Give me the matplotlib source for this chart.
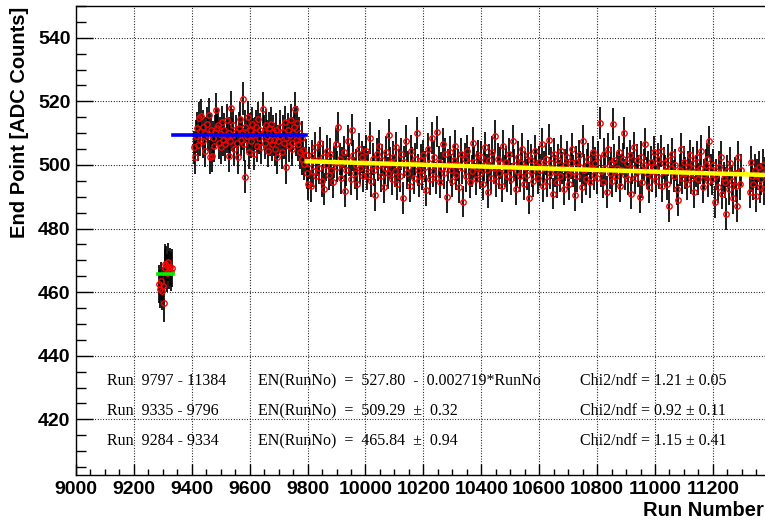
import matplotlib
matplotlib.use("Agg")
import matplotlib.pyplot as plt
from matplotlib.ticker import MultipleLocator

# fit results per run range
FIT_A = (465.84, 0.94, 1.15, 0.41)   # runs 9284 - 9334
FIT_B = (509.29, 0.32, 0.92, 0.11)   # runs 9335 - 9796
FIT_C = (527.80, 0.002719, 1.21, 0.05)  # runs 9797 - 11384, linear

RANGE_A = (9284, 9334)
RANGE_B = (9335, 9796)
RANGE_C = (9797, 11384)

# end point per run
runs_a = [9288, 9291, 9294, 9297, 9300, 9303, 9306, 9309, 9312, 9315, 9318, 9321, 9324, 9327, 9330]
ep_a = [462.5, 461.0, 463.5, 460.5, 462.0, 456.5, 469.0, 467.5, 468.5, 466.0, 469.5, 467.0, 468.0, 466.5, 467.5]

runs_b = [9406, 9410, 9413, 9417, 9420, 9424, 9427, 9430, 9433, 9437,
          9440, 9444, 9447, 9451, 9455, 9459, 9462, 9466, 9469, 9473,
          9476, 9480, 9484, 9487, 9491, 9494, 9498, 9502, 9505, 9509,
          9512, 9516, 9520, 9523, 9527, 9530, 9533, 9536, 9540, 9544,
          9547, 9551, 9555, 9559, 9562, 9566, 9569, 9573, 9576, 9580,
          9583, 9585, 9589, 9593, 9596, 9600, 9604, 9607, 9611, 9614,
          9618, 9622, 9625, 9629, 9633, 9636, 9640, 9645, 9648, 9652,
          9655, 9659, 9663, 9666, 9670, 9674, 9677, 9681, 9685, 9688,
          9692, 9695, 9699, 9703, 9706, 9710, 9714, 9717, 9721, 9724,
          9727, 9731, 9735, 9738, 9742, 9745, 9747, 9751, 9754, 9757,
          9761, 9765, 9768, 9772, 9775, 9779, 9782, 9785, 9789, 9793]
ep_b = [505.5, 502.4, 509.0, 511.5, 506.3, 514.7, 508.0, 510.7, 515.4, 512.0,
        507.5, 510.0, 504.5, 513.0, 509.5, 515.8, 502.5, 511.0, 502.9, 508.5,
        506.0, 510.5, 517.3, 511.5, 512.6, 507.0, 509.8, 505.5, 513.5, 508.0,
        511.0, 506.5, 509.0, 514.0, 510.0, 502.9, 507.5, 518.0, 509.5, 512.5,
        505.0, 510.5, 507.0, 502.5, 511.5, 514.5, 508.0, 510.0, 520.9, 506.5,
        512.0, 496.3, 509.0, 515.0, 504.0, 511.0, 507.5, 513.0, 509.5, 503.5,
        510.0, 512.0, 506.0, 514.5, 508.5, 511.0, 505.5, 517.6, 510.5, 507.0,
        512.5, 509.0, 504.5, 511.5, 508.0, 513.0, 506.5, 510.5, 508.0, 505.0,
        511.0, 502.5, 507.5, 512.0, 509.0, 504.0, 510.5, 507.0, 513.5, 508.5,
        499.3, 511.0, 506.0, 509.5, 514.0, 507.0, 505.0, 510.0, 512.0, 517.6,
        508.0, 513.3, 506.5, 510.0, 504.0, 508.5, 502.0, 504.8, 500.4, 503.0]

runs_c = [9798, 9802, 9806, 9811, 9816, 9820, 9825, 9830, 9835, 9839, 9844, 9849, 9854, 9858, 9863, 9868, 9873, 9877, 9882, 9887, 9892,
          9897, 9901, 9906, 9911, 9915, 9920, 9925, 9930, 9934, 9939, 9944, 9949, 9953, 9958, 9963, 9968, 9972, 9977, 9982, 9987, 9991,
          9996, 10001, 10006, 10010, 10015, 10020, 10025, 10029, 10034, 10039, 10044, 10048, 10053, 10058, 10063, 10067, 10072, 10077, 10082, 10086, 10091,
          10096, 10101, 10105, 10110, 10115, 10120, 10124, 10129, 10134, 10139, 10143, 10148, 10153, 10158, 10162, 10167, 10172, 10177, 10181, 10186, 10191,
          10196, 10200, 10205, 10210, 10215, 10219, 10224, 10229, 10234, 10238, 10243, 10248, 10253, 10257, 10262, 10267, 10272, 10276, 10281, 10286, 10291,
          10296, 10300, 10305, 10310, 10314, 10319, 10324, 10329, 10333, 10338, 10343, 10348, 10352, 10357, 10362, 10367, 10371, 10376, 10381, 10386, 10390,
          10395, 10400, 10405, 10409, 10414, 10419, 10424, 10428, 10433, 10438, 10443, 10447, 10452, 10457, 10462, 10466, 10471, 10476, 10481, 10485, 10490,
          10495, 10500, 10504, 10509, 10514, 10519, 10523, 10528, 10533, 10538, 10542, 10547, 10552, 10557, 10561, 10566, 10571, 10576, 10580, 10585, 10590,
          10595, 10599, 10604, 10609, 10614, 10618, 10623, 10628, 10633, 10637, 10642, 10647, 10652, 10656, 10661, 10666, 10671, 10675, 10680, 10685, 10690,
          10695, 10699, 10704, 10709, 10713, 10718, 10723, 10728, 10732, 10737, 10742, 10747, 10751, 10756, 10761, 10766, 10770, 10775, 10780, 10785, 10789,
          10794, 10799, 10804, 10810, 10814, 10819, 10824, 10829, 10833, 10838, 10843, 10848, 10851, 10855, 10860, 10865, 10870, 10874, 10879, 10884, 10889, 10893,
          10898, 10903, 10908, 10913, 10917, 10922, 10927, 10932, 10937, 10942, 10947, 10952, 10956, 10961, 10966, 10971, 10976, 10980, 10985, 10990, 10995,
          11000, 11005, 11010, 11015, 11020, 11025, 11030, 11035, 11040, 11045, 11050, 11055, 11060, 11065, 11070, 11075, 11080, 11085, 11090, 11095,
          11100, 11105, 11110, 11115, 11120, 11125, 11130, 11135, 11140, 11145, 11150, 11155, 11160, 11165, 11170, 11175, 11180, 11184, 11188, 11193,
          11198, 11202, 11207, 11212, 11217, 11222, 11227, 11232, 11237, 11241, 11245, 11250, 11255, 11260, 11265, 11270, 11275, 11279, 11283, 11287, 11292, 11296,
          11327, 11331, 11336, 11340, 11345, 11349, 11354, 11358, 11363, 11367, 11372, 11376, 11381]
ep_c = [497.5, 494.0, 500.5, 493.5, 503.0, 498.0, 505.5, 496.5, 501.5, 499.0, 507.0, 495.0, 502.5, 492.5, 500.0, 504.5, 497.0, 503.5, 498.5, 494.5, 501.0,
        506.5, 499.5, 511.8, 502.0, 496.0, 500.5, 504.0, 491.8, 498.5, 507.6, 501.5, 495.5, 511.0, 503.0, 497.5, 500.0, 494.0, 505.0, 499.0, 502.5, 496.5,
        501.0, 504.5, 497.0, 499.5, 508.5, 495.0, 502.0, 498.5, 490.5, 503.5, 500.0, 506.0, 496.5, 501.5, 493.0, 499.0, 504.0, 497.5, 509.5, 500.5, 495.5,
        502.5, 498.0, 505.5, 494.0, 500.0, 496.5, 503.5, 489.5, 501.0, 507.5, 497.5, 499.5, 493.5, 504.5, 500.5, 496.0, 502.0, 510.0, 498.5, 495.0, 501.5,
        497.0, 503.0, 499.5, 492.0, 505.0, 500.5, 495.5, 508.5, 498.0, 502.5, 496.0, 510.5, 501.0, 494.5, 499.0, 506.5, 497.5, 503.5, 490.0, 500.0, 504.0,
        498.5, 495.0, 501.5, 506.0, 497.0, 500.0, 493.0, 503.5, 499.0, 488.5, 502.0, 496.5, 504.5, 500.5, 494.5, 498.0, 507.0, 501.0, 495.5, 499.5, 503.0,
        497.5, 502.5, 494.0, 500.0, 505.5, 498.5, 491.5, 501.5, 496.0, 504.0, 499.0, 509.0, 495.0, 502.0, 497.5, 500.5, 493.5, 506.0, 498.0, 501.0, 496.5,
        503.5, 499.0, 495.5, 507.5, 500.0, 492.5, 498.0, 502.5, 496.5, 500.5, 505.0, 494.0, 499.5, 497.0, 503.0, 489.5, 501.5, 498.0, 495.0, 504.5, 500.0,
        496.0, 501.0, 498.5, 506.5, 493.5, 499.5, 502.0, 495.0, 508.0, 497.5, 500.5, 491.0, 503.5, 498.0, 494.5, 501.5, 496.5, 504.5, 499.0, 492.5, 500.0,
        502.5, 497.0, 494.0, 500.5, 505.0, 498.0, 490.5, 501.0, 496.5, 503.0, 499.5, 493.0, 507.5, 498.5, 495.5, 500.0, 502.0, 494.5, 499.0, 504.0, 497.0,
        500.5, 496.0, 502.5, 513.3, 498.0, 494.5, 503.5, 499.0, 491.5, 505.0, 497.5, 500.5, 495.0, 513.0, 501.5, 496.5, 499.0, 504.0, 493.5, 498.5, 502.0, 510.0,
        497.0, 500.5, 495.5, 503.0, 491.0, 499.0, 505.5, 496.0, 501.5, 498.0, 490.0, 502.5, 494.5, 500.0, 506.5, 497.5, 499.5, 493.0, 501.0, 496.5, 504.0,
        499.5, 495.0, 502.0, 497.5, 504.5, 493.5, 500.5, 498.0, 494.0, 501.5, 487.0, 499.0, 503.5, 496.5, 500.0, 492.5, 489.0, 498.5, 505.0, 496.0,
        501.0, 497.5, 494.0, 499.5, 503.0, 496.0, 500.5, 491.5, 498.0, 502.5, 495.5, 499.0, 504.5, 493.0, 497.0, 500.0, 502.0, 495.0, 507.4, 498.5,
        495.5, 500.0, 488.3, 497.0, 493.0, 499.5, 502.5, 491.0, 496.0, 494.5, 484.5, 498.0, 492.5, 500.5, 495.0, 489.5, 497.5, 493.5, 487.0, 502.4, 494.0, 498.5,
        491.5, 501.0, 496.5, 494.0, 498.5, 490.2, 497.0, 499.5, 493.0, 495.5, 500.0, 492.5, 497.5]

err_a = 6.0
err_b = 5.2
err_c = 5.0

W, H = 765, 522
fig = plt.figure(figsize=(W / 100, H / 100), dpi=100)
ax = fig.add_axes([76 / W, 1 - 475 / H, 1 - 76 / W, (475 - 6) / H])

for runs, ep, err in [(runs_a, ep_a, err_a), (runs_b, ep_b, err_b), (runs_c, ep_c, err_c)]:
    ax.errorbar(runs, ep, yerr=err, fmt='none', ecolor='black', elinewidth=1.25, zorder=2)
for runs, ep in [(runs_a, ep_a), (runs_b, ep_b), (runs_c, ep_c)]:
    ax.plot(runs, ep, 'o', ms=3.9, mfc='none', mec='red', mew=1.0, zorder=3)

# fits
ax.plot(RANGE_A, [FIT_A[0], FIT_A[0]], color='#00ee00', lw=2.6, zorder=4)
ax.plot(RANGE_B, [FIT_B[0], FIT_B[0]], color='blue', lw=2.6, zorder=4)
ax.plot(RANGE_C, [FIT_C[0] - FIT_C[1] * r for r in RANGE_C], color='yellow', lw=3.2, zorder=4)

ax.set_xlim(9000, 11380)
ax.set_ylim(402.5, 550)
ax.xaxis.set_major_locator(MultipleLocator(200))
ax.xaxis.set_minor_locator(MultipleLocator(50))
ax.yaxis.set_major_locator(MultipleLocator(20))
ax.yaxis.set_minor_locator(MultipleLocator(5))
ax.grid(True, which='major', color='black', linestyle=(0, (0.8, 1.6)), linewidth=0.8)
ax.set_axisbelow(True)
ax.spines['right'].set_visible(False)
for s in ['left', 'bottom', 'top']:
    ax.spines[s].set_linewidth(1.0)
ax.tick_params(axis='x', which='major', direction='in', length=8, width=1.0, pad=4)
ax.tick_params(axis='x', which='minor', direction='in', length=4.5, width=1.0)
ax.tick_params(axis='y', which='major', direction='in', length=12, width=1.0, pad=4)
ax.tick_params(axis='y', which='minor', direction='in', length=7, width=1.0)
for lab in ax.get_xticklabels() + ax.get_yticklabels():
    lab.set_fontfamily('Liberation Sans')
    lab.set_fontweight('bold')
    lab.set_fontsize(14)

fig.text(20 / W, 1 - 7 / H, 'End Point [ADC Counts]', rotation=90, ha='center', va='top',
         family='Liberation Sans', weight='bold', fontsize=14.5)
fig.text(764 / W, 1 - 510 / H, 'Run Number', ha='right', va='center',
         family='Liberation Sans', weight='bold', fontsize=14.5)

rows = [
    ('Run  %d - %d' % RANGE_C, 'EN(RunNo)  =  %.2f  -  %.6f*RunNo' % (FIT_C[0], FIT_C[1]),
     'Chi2/ndf = %.2f \u00b1 %.2f' % (FIT_C[2], FIT_C[3])),
    ('Run  %d - %d' % RANGE_B, 'EN(RunNo)  =  %.2f  \u00b1  %.2f' % (FIT_B[0], FIT_B[1]),
     'Chi2/ndf = %.2f \u00b1 %.2f' % (FIT_B[2], FIT_B[3])),
    ('Run  %d - %d' % RANGE_A, 'EN(RunNo)  =  %.2f  \u00b1  %.2f' % (FIT_A[0], FIT_A[1]),
     'Chi2/ndf = %.2f \u00b1 %.2f' % (FIT_A[2], FIT_A[3])),
]
for i, row in enumerate(rows):
    yy = 1 - (381 + 30 * i) / H
    for xx, txt in zip([107, 258, 580], row):
        fig.text(xx / W, yy, txt, ha='left', va='center', family='Liberation Serif', fontsize=11.5)

fig.savefig('out.png', dpi=100)
